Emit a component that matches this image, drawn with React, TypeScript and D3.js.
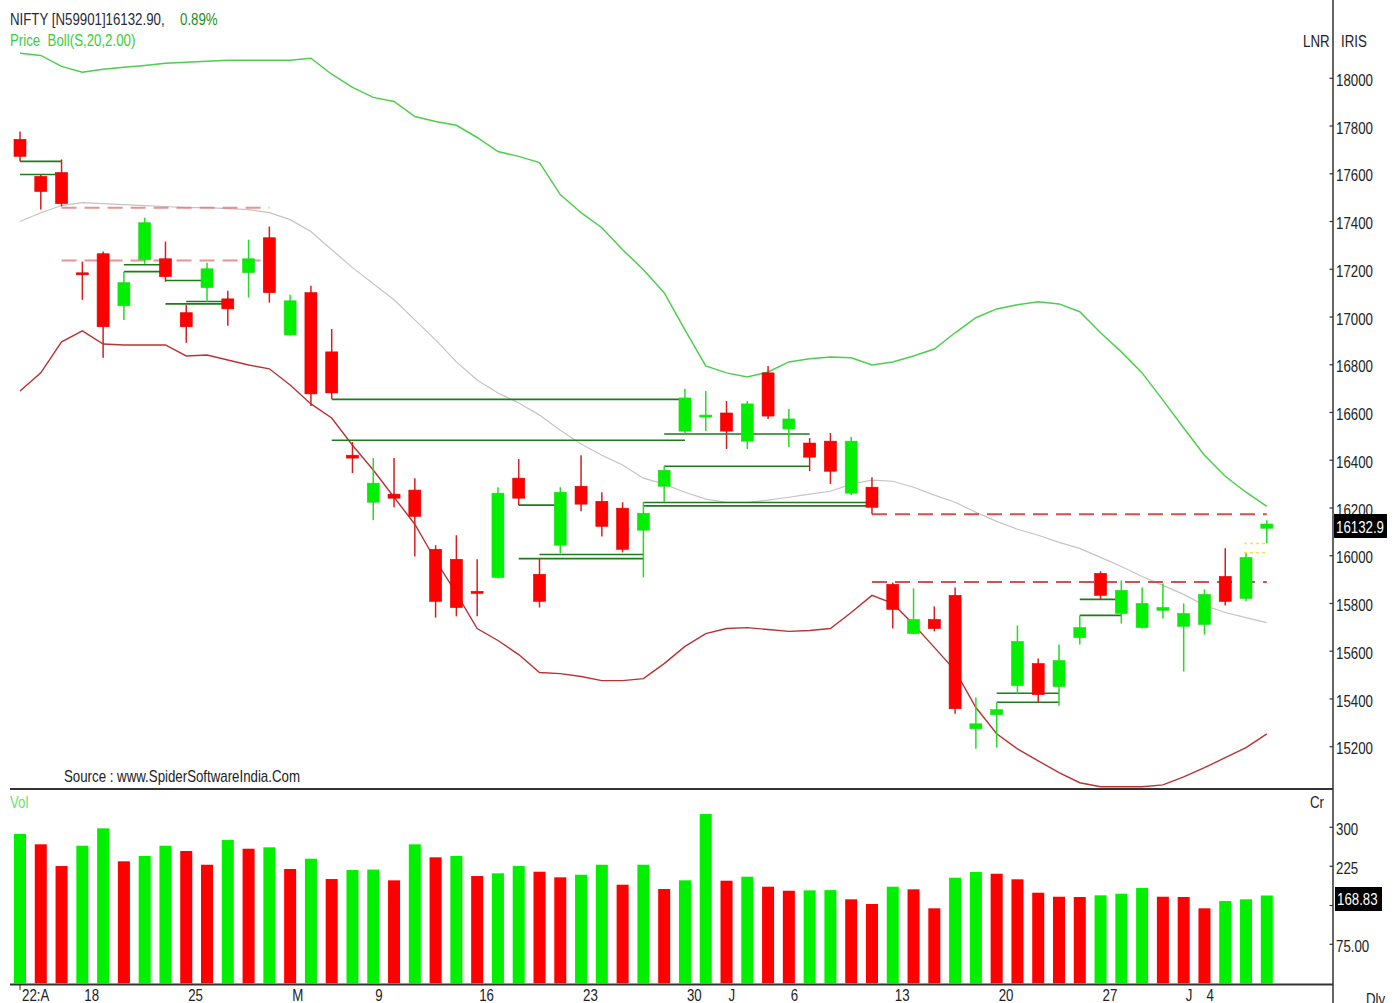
import React from "react";
import * as d3 from "d3";

// ---------- data ----------
const opens = [
  17744, 17589, 17605, 17183, 17265, 17047, 17240, 17244, 17018, 17123,
  17076, 17186, 17332, 16925, 17102, 16854, 16421, 16224, 16258, 16275,
  16027, 15985, 15849, 15909, 16325, 15922, 16044, 16291, 16228, 16199,
  16107, 16291, 16522, 16581, 16598, 16480, 16766, 16531, 16472, 16480,
  16262, 16287, 15880, 15674, 15733, 15834, 15275, 15334, 15456, 15548,
  15452, 15657, 15926, 15758, 15699, 15771, 15704, 15712, 15913, 15821,
  16115,
];
const highs = [
  17777, 17597, 17660, 17232, 17274, 17190, 17416, 17316, 17051, 17227,
  17110, 17324, 17379, 17093, 17131, 16950, 16476, 16409, 16409, 16325,
  16044, 16086, 15985, 16287, 16405, 15989, 16287, 16421, 16266, 16224,
  16224, 16375, 16699, 16690, 16648, 16648, 16795, 16615, 16493, 16514,
  16497, 16329, 15888, 15863, 15788, 15867, 15406, 15385, 15708, 15569,
  15628, 15750, 15935, 15897, 15867, 15884, 15800, 15859, 16031, 16010,
  16149,
];
const lows = [
  17652, 17450, 17463, 17072, 16829, 16988, 17223, 17148, 16892, 17064,
  16963, 17081, 17060, 16921, 16627, 16657, 16346, 16149, 16203, 15997,
  15741, 15746, 15746, 15905, 16212, 15783, 16010, 16186, 16081, 16014,
  15909, 16224, 16510, 16522, 16447, 16447, 16573, 16455, 16354, 16300,
  16254, 16174, 15695, 15670, 15683, 15338, 15191, 15196, 15422, 15385,
  15372, 15628, 15817, 15716, 15695, 15737, 15515, 15670, 15792, 15809,
  16052,
];
const closes = [
  17673, 17526, 17475, 17179, 16959, 17144, 17395, 17169, 16959, 17202,
  17034, 17244, 17102, 17068, 16678, 16682, 16409, 16304, 16241, 16165,
  15809, 15783, 15844, 16262, 16241, 15809, 16266, 16216, 16123, 16027,
  16178, 16358, 16661, 16589, 16522, 16636, 16585, 16573, 16413, 16354,
  16480, 16203, 15775, 15733, 15695, 15359, 15296, 15355, 15641, 15418,
  15561, 15699, 15834, 15855, 15800, 15783, 15758, 15838, 15809, 15993,
  16132.9,
];
const volumes = [
  287.1, 267.3, 225.5, 264.6, 298.0, 234.6, 244.8, 264.6, 254.4, 228.0,
  275.5, 258.8, 261.5, 219.8, 239.6, 200.5, 217.9, 218.7, 198.0, 267.3,
  242.3, 244.8, 206.3, 211.5, 225.5, 214.6, 203.8, 208.8, 228.0, 189.6,
  228.0, 181.3, 198.0, 325.5, 197.3, 205.0, 185.7, 178.0, 178.7, 179.2,
  161.5, 152.5, 185.7, 180.7, 144.2, 203.0, 214.0, 210.7, 200.0, 174.2,
  166.5, 165.9, 169.2, 172.3, 183.2, 166.5, 166.0, 144.2, 158.2, 161.5,
  168.83,
];
const bollUpper = [
  18105, 18096, 18050, 18025, 18038, 18046, 18054, 18063, 18067, 18071,
  18076, 18076, 18076, 18076, 18084, 18017, 17962, 17920, 17903, 17840,
  17819, 17803, 17752, 17693, 17673, 17647, 17513, 17437, 17374, 17282,
  17198, 17102, 16946, 16795, 16766, 16749, 16770, 16812, 16825, 16833,
  16829, 16799, 16812, 16837, 16866, 16934, 16997, 17034, 17051, 17064,
  17055, 17022, 16934, 16854, 16766, 16652, 16535, 16421, 16333, 16266,
  16207,
];
const bollMid = [
  17400, 17437, 17467, 17479, 17475, 17471, 17467, 17463, 17458, 17458,
  17454, 17450, 17437, 17408, 17358, 17282, 17207, 17139, 17072, 16988,
  16904, 16812, 16736, 16682, 16640, 16589, 16526, 16468, 16421, 16380,
  16325, 16300, 16266, 16237, 16224, 16224, 16233, 16245, 16258, 16270,
  16300, 16317, 16312, 16287, 16254, 16224, 16182, 16144, 16111, 16086,
  16056, 16031, 15993, 15955, 15913, 15876, 15838, 15792, 15762, 15741,
  15720,
];
const bollLower = [
  16690, 16766, 16896, 16942, 16887, 16883, 16883, 16883, 16837, 16841,
  16820, 16799, 16783, 16715, 16636, 16577, 16463, 16359, 16245, 16132,
  15981, 15842, 15695, 15645, 15586, 15511, 15506, 15494, 15477, 15477,
  15485, 15548, 15620, 15674, 15695, 15699, 15691, 15683, 15687, 15695,
  15762, 15834, 15800, 15712, 15616, 15519, 15364, 15254, 15191, 15141,
  15091, 15049, 15032, 15032, 15032, 15040, 15074, 15112, 15154, 15196,
  15254,
];

const dateTickIdx = [0, 3, 8, 13, 17, 22, 27, 32, 34, 37, 42, 47, 52, 56, 57];
const dateTickLbl = ["22:A", "18", "25", "M", "9", "16", "23", "30", "J", "6", "13", "20", "27", "J", "4"];

const priceTicks = [15200, 15400, 15600, 15800, 16000, 16200, 16400, 16600, 16800, 17000, 17200, 17400, 17600, 17800, 18000];
const volTicks = [75, 225, 300];
const volTickLbl = ["75.00", "225", "300"];

// filled gaps (solid dark green)
const filledGapFrom = [0, 0, 5, 5, 7, 7, 8, 15, 15, 24, 25, 24, 30, 30, 31, 31, 47, 47, 51, 51];
const filledGapTo = [2, 2, 7, 7, 9, 10, 10, 32, 32, 26, 30, 30, 41, 41, 38, 38, 50, 50, 53, 53];
const filledGapLevel = [17652, 17597, 17219, 17190, 17153, 17055, 17065, 16655, 16484, 16212, 16005, 15988, 16223, 16209, 16510, 16375, 15424, 15386, 15817, 15750];

// open gaps (dashed red)
const openGapFrom = [2, 2, 41, 41];
const openGapTo = [12, 12, 60, 60];
const openGapLevel = [17458, 17237, 16174, 15890];

// pending (dotted yellow)
const pendingFrom = [59, 59];
const pendingTo = [60, 60];
const pendingLevel = [16051, 16013];

const FONT = "'Liberation Sans', Arial, sans-serif";
const RED = "#ff0000";
const GREEN = "#00f000";
const SX = 0.83;

function T(props: { x: number; y: number; fill?: string; children: React.ReactNode }) {
  return (
    <text
      transform={`translate(${props.x},${props.y}) scale(${SX},1)`}
      fontSize={16}
      fill={props.fill || "#222"}
      style={{ whiteSpace: "pre" }}
    >
      {props.children}
    </text>
  );
}

export default function App() {
  const n = closes.length;
  const idx = d3.range(n);
  const x = d3.scaleLinear().domain([0, 60]).range([20, 1266.8]);
  const y = d3.scaleLinear().domain([15200, 18000]).range([746.7, 78.3]);
  const yv = d3.scaleLinear().domain([75, 300]).range([944.3, 827.3]);

  const AX = 1333;
  const bodyW = 12;

  const bandLine = (arr: number[]) =>
    d3.line<number>().x((d, i) => x(i)).y((d) => y(d)).curve(d3.curveLinear)(arr) || "";

  const lastClose = closes[n - 1];
  const lastVol = volumes[n - 1];

  return (
    <svg
      width={1399}
      height={1003}
      style={{ position: "absolute", left: 0, top: 0, background: "#fff", display: "block" }}
      fontFamily={FONT}
    >
      <rect x={0} y={0} width={1399} height={1003} fill="#ffffff" />

      {/* Bollinger bands */}
      <path d={bandLine(bollUpper)} fill="none" stroke="#4ccf4c" strokeWidth={1.5} />
      <path d={bandLine(bollMid)} fill="none" stroke="#c4c4c4" strokeWidth={1.2} />
      <path d={bandLine(bollLower)} fill="none" stroke="#b83333" strokeWidth={1.4} />

      {/* open gaps */}
      {openGapLevel.map((lv, k) => (
        <line
          key={"og" + k}
          x1={x(openGapFrom[k])}
          x2={x(openGapTo[k])}
          y1={y(lv)}
          y2={y(lv)}
          stroke={k < 2 ? "#e07a7a" : "#d23c3c"}
          strokeWidth={2}
          strokeDasharray="15 8"
          opacity={k < 2 ? 0.8 : 0.9}
        />
      ))}

      {/* filled gaps */}
      {filledGapLevel.map((lv, k) => (
        <line
          key={"fg" + k}
          x1={x(filledGapFrom[k])}
          x2={x(filledGapTo[k])}
          y1={y(lv)}
          y2={y(lv)}
          stroke="#1d7a1d"
          strokeWidth={1.6}
        />
      ))}

      {/* pending */}
      {pendingLevel.map((lv, k) => (
        <line
          key={"pd" + k}
          x1={x(pendingFrom[k]) - 2}
          x2={x(pendingTo[k])}
          y1={y(lv)}
          y2={y(lv)}
          stroke="#f2e25a"
          strokeWidth={1.5}
          strokeDasharray="3 3"
        />
      ))}

      {/* candles */}
      {idx.map((i) => {
        const up = closes[i] >= opens[i];
        const col = up ? GREEN : RED;
        const top = y(Math.max(opens[i], closes[i]));
        const bot = y(Math.min(opens[i], closes[i]));
        const h = Math.max(2, bot - top);
        return (
          <g key={"c" + i}>
            <line x1={x(i)} x2={x(i)} y1={y(highs[i])} y2={y(lows[i])} stroke={up ? "#22dd22" : "#d42020"} strokeWidth={1.5} />
            <rect
              x={x(i) - bodyW / 2}
              y={h === 2 ? (top + bot) / 2 - 1 : top}
              width={bodyW}
              height={h}
              fill={col}
              stroke={up ? "#2ad42a" : "#dd0000"}
              strokeWidth={0.6}
            />
          </g>
        );
      })}

      {/* volume */}
      {idx.map((i) => {
        const up = i === 0 || volumes[i] >= volumes[i - 1];
        return (
          <rect
            key={"v" + i}
            x={x(i) - 6}
            y={yv(volumes[i])}
            width={12}
            height={yv(0) - yv(volumes[i])}
            fill={up ? GREEN : RED}
          />
        );
      })}

      {/* panel lines */}
      <line x1={10} x2={AX} y1={789} y2={789} stroke="#333" strokeWidth={2} />
      <line x1={10} x2={AX} y1={984.5} y2={984.5} stroke="#333" strokeWidth={2} />
      <line x1={AX} x2={AX} y1={0} y2={1003} stroke="#333" strokeWidth={1.5} />
      <line x1={x(0)} x2={x(0)} y1={985} y2={990} stroke="#333" strokeWidth={1} />

      {/* price axis */}
      {priceTicks.map((t) => (
        <g key={"pt" + t}>
          <line x1={AX - 3.5} x2={AX} y1={y(t)} y2={y(t)} stroke="#333" strokeWidth={1.2} />
          <T x={1336} y={y(t) + 7.7}>{String(t)}</T>
        </g>
      ))}
      <rect x={1334} y={y(lastClose) - 10} width={53} height={24} fill="#000" />
      <T x={1336} y={y(lastClose) + 8.5} fill="#fff">{lastClose.toFixed(1)}</T>

      {/* volume axis */}
      {volTicks.map((t, k) => (
        <g key={"vt" + t}>
          <line x1={AX - 3.5} x2={AX} y1={yv(t)} y2={yv(t)} stroke="#333" strokeWidth={1.2} />
          <T x={1336} y={yv(t) + 7.7}>{volTickLbl[k]}</T>
        </g>
      ))}
      <line x1={AX - 3.5} x2={AX} y1={yv(lastVol) + 10} y2={yv(lastVol) + 10} stroke="#333" strokeWidth={1.2} />
      <rect x={1335} y={yv(lastVol) - 8.5} width={47} height={24} fill="#000" />
      <T x={1337} y={yv(lastVol) + 9} fill="#fff">{lastVol.toFixed(2)}</T>

      {/* date axis */}
      {dateTickIdx.map((di, k) => (
        <T key={"dt" + k} x={x(di) + 2} y={1001}>{dateTickLbl[k]}</T>
      ))}

      {/* header texts */}
      <T x={10} y={25} fill="#2a2a3a">NIFTY [N59901]16132.90,</T>
      <T x={180} y={25} fill="#1e8e1e">0.89%</T>
      <T x={10} y={46} fill="#3ccc3c">{"Price  Boll(S,20,2.00)"}</T>
      <T x={1303} y={47}>LNR</T>
      <T x={1341} y={47}>IRIS</T>
      <T x={64} y={782}>Source : www.SpiderSoftwareIndia.Com</T>
      <T x={10} y={808} fill="#6ede6e">Vol</T>
      <T x={1310} y={808}>Cr</T>
      <T x={1366} y={1005}>Dly</T>
    </svg>
  );
}
